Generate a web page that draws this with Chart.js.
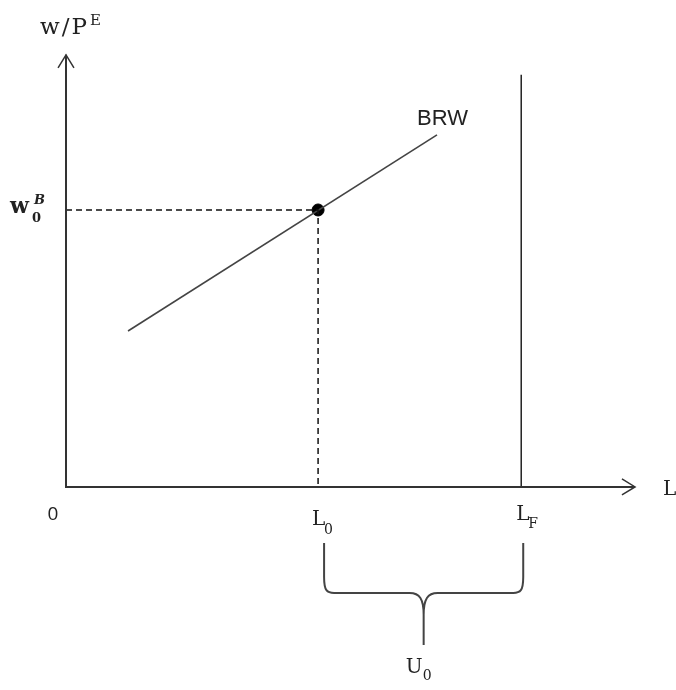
<!DOCTYPE html>
<html>
<head>
<meta charset="utf-8">
<script src="https://cdn.jsdelivr.net/npm/chart.js@4"></script>
<style>
  html, body { margin: 0; padding: 0; background: #fff; }
  #wrap { width: 676px; height: 690px; }
</style>
</head>
<body>
<div id="wrap"><canvas id="diagram" width="676" height="690"></canvas></div>
<script>
// labour on x, real wage on y (0..100 both)
const xLabels = ['0', 'L0', 'LF'];
const xValues = [0, 44.3, 80];
const brwX = [10.9, 65.2];
const brwY = [36.1, 81.5];
const w0 = 64.1;        // w0^B at the point on BRW
const lfTop = 95.4;     // top of the vertical LF line
const axisMax = 100;

const L0 = xValues[1];
const LF = xValues[2];

// braces / labels
const textPlugin = {
  id: 'texts',
  afterDatasetsDraw(chart) {
    const ctx = chart.ctx;
    const xs = chart.scales.x, ys = chart.scales.y;
    const px = v => xs.getPixelForValue(v);
    const py = v => ys.getPixelForValue(v);
    ctx.save();
    ctx.fillStyle = '#222';
    ctx.textBaseline = 'alphabetic';

    // y-axis title w/P^E
    ctx.font = '23px "DejaVu Serif"';
    ctx.textAlign = 'left';
    ctx.letterSpacing = '2px';
    ctx.fillText('w/P', px(0) - 26, py(axisMax) - 21);
    let wpw = ctx.measureText('w/P').width;
    ctx.letterSpacing = '0px';
    ctx.font = '15px "DejaVu Serif"';
    ctx.fillText('E', px(0) - 26 + wpw + 1, py(axisMax) - 30);

    // x-axis title L
    ctx.font = '20px "DejaVu Serif"';
    ctx.fillText('L', px(100) + 28, py(0) + 8);

    // origin 0
    ctx.font = '19px "Open Sans"';
    ctx.textAlign = 'center';
    ctx.fillText('0', px(0) - 13, py(0) + 33);

    // L0 / LF
    ctx.font = '20px "DejaVu Serif"';
    ctx.textAlign = 'left';
    ctx.fillText('L', px(L0) - 6, py(0) + 38);
    ctx.font = '14px "DejaVu Serif"';
    ctx.fillText('0', px(L0) + 6, py(0) + 47);
    ctx.font = '20px "DejaVu Serif"';
    ctx.fillText('L', px(LF) - 5, py(0) + 33);
    ctx.font = '14px "DejaVu Serif"';
    ctx.fillText('F', px(LF) + 7, py(0) + 41);

    // w0^B
    ctx.font = 'bold 22px "DejaVu Serif"';
    ctx.fillText('w', px(0) - 56, py(w0) + 3);
    ctx.font = 'bold 13px "DejaVu Serif"';
    ctx.fillText('0', px(0) - 34, py(w0) + 12);
    ctx.font = 'bold italic 13px "DejaVu Serif"';
    ctx.fillText('B', px(0) - 32, py(w0) - 6);

    // BRW
    ctx.font = '22px "Liberation Sans"';
    ctx.fillText('BRW', px(brwX[1]) - 20, py(brwY[1]) - 10);

    // brace under L0..LF
    const xl = px(L0) + 6, xr = px(LF) + 2, xm = (xl + xr) / 2;
    const yt = py(0) + 56, yh = py(0) + 106, yb = py(0) + 158;
    ctx.strokeStyle = '#444';
    ctx.lineWidth = 2;
    ctx.beginPath();
    ctx.moveTo(xl, yt);
    ctx.lineTo(xl, yh - 16);
    ctx.bezierCurveTo(xl, yh - 2, xl + 3, yh, xl + 10, yh);
    ctx.lineTo(xm - 14, yh);
    ctx.bezierCurveTo(xm - 4, yh, xm, yh + 6, xm, yh + 22);
    ctx.lineTo(xm, yb);
    ctx.moveTo(xm, yh + 22);
    ctx.bezierCurveTo(xm, yh + 6, xm + 4, yh, xm + 14, yh);
    ctx.lineTo(xr - 10, yh);
    ctx.bezierCurveTo(xr - 3, yh, xr, yh - 2, xr, yh - 16);
    ctx.lineTo(xr, yt);
    ctx.stroke();

    // U0
    ctx.fillStyle = '#222';
    ctx.font = '20px "DejaVu Serif"';
    ctx.textAlign = 'left';
    ctx.fillText('U', xm - 18, yb + 28);
    ctx.font = '14px "DejaVu Serif"';
    ctx.fillText('0', xm - 1, yb + 35);
    ctx.restore();
  }
};

const line = (pts, extra) => Object.assign({
  data: pts, showLine: true, pointRadius: 0, borderColor: '#333',
  borderWidth: 2, fill: false, tension: 0
}, extra || {});

new Chart(document.getElementById('diagram'), {
  type: 'scatter',
  data: {
    datasets: [
      // axes
      line([{x: 0, y: axisMax}, {x: 0, y: 0}, {x: axisMax, y: 0}]),
      line([{x: -1.4, y: axisMax - 3}, {x: 0, y: axisMax}, {x: 1.4, y: axisMax - 3}], {borderWidth: 1.5}),
      line([{x: axisMax - 2.3, y: 1.85}, {x: axisMax, y: 0}, {x: axisMax - 2.3, y: -1.85}], {borderWidth: 1.5}),
      // dashed guides
      line([{x: 0, y: w0}, {x: L0, y: w0}, {x: L0, y: 0}], {borderColor: '#111', borderWidth: 1.5, borderDash: [6, 4]}),
      // LF vertical
      line([{x: LF, y: 0}, {x: LF, y: lfTop}], {borderColor: '#222', borderWidth: 1.5}),
      // BRW
      line(brwX.map((x, i) => ({x, y: brwY[i]})), {borderColor: '#444', borderWidth: 1.6}),
      // point
      {data: [{x: L0, y: w0}], pointRadius: 6, pointBackgroundColor: '#000', pointBorderColor: '#000', showLine: false}
    ]
  },
  options: {
    responsive: false,
    animation: false,
    layout: { padding: 0, autoPadding: false },
    plugins: { legend: { display: false }, tooltip: { enabled: false } },
    scales: {
      x: { type: 'linear', display: false, min: -11.6, max: 107.2 },
      y: { type: 'linear', display: false, min: -47.0, max: 112.7 }
    }
  },
  plugins: [textPlugin]
});
</script>
</body>
</html>
